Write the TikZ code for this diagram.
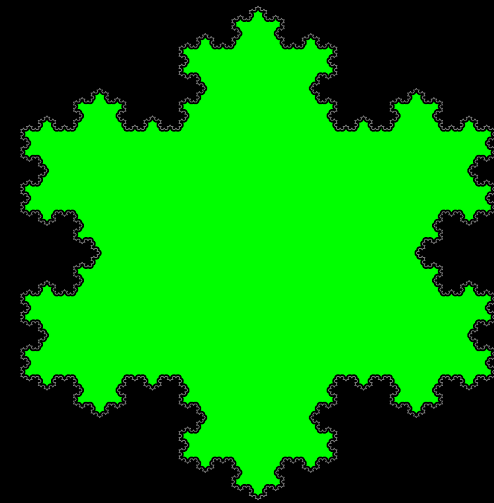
\documentclass[tikz,border=0pt]{standalone}
\usetikzlibrary{lindenmayersystems}

\definecolor{flakegreen}{RGB}{0,255,0}
\definecolor{edgegray}{RGB}{120,120,120}

\pgfdeclarelindenmayersystem{koch flake}{\rule{F -> F-F++F-F}}

\begin{document}
\begin{tikzpicture}[x=1pt,y=1pt,
  flake/.style={fill=flakegreen, draw=black, double=edgegray,
    line width=1.8pt, double distance=0.7pt, line join=round}]
\fill[black] (0,0) rectangle (494,503);
\useasboundingbox (0,0) rectangle (494,503);
% snowflake, turtle starts at the lower left corner of the base triangle
\begin{scope}[shift={(20.6,126.5)}, xscale=1.11]
\filldraw[flake, l-system={koch flake, axiom=F++F++F, order=5, step=1.7605pt, angle=60}]
  lindenmayer system -- cycle;
\end{scope}
\end{tikzpicture}
\end{document}
